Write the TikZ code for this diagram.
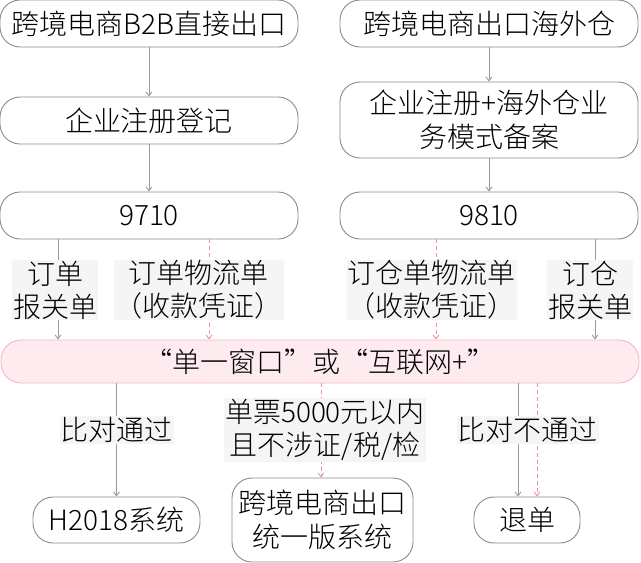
\documentclass[tikz,border=0pt]{standalone}
\usepackage{fontspec}
\setmainfont{Noto Sans CJK SC}[UprightFont=* Light]
\usetikzlibrary{arrows.meta}
\definecolor{boxgray}{HTML}{8A8A8A}
\definecolor{linegray}{HTML}{9A9A9A}
\definecolor{pinkline}{HTML}{F08FA3}
\definecolor{pinkfill}{HTML}{FDEBEF}
\definecolor{pinkborder}{HTML}{F4B6C2}
\definecolor{labelbg}{HTML}{F5F5F5}
\tikzset{
  flowbox/.style={draw=boxgray, line width=0.9pt, rounded corners=20pt, fill=white,
    inner sep=0pt, align=center, font=\fontsize{28}{34}\selectfont},
  tagbox/.style={fill=labelbg, inner sep=1pt, align=center, font=\fontsize{28}{33}\selectfont},
  solidarrow/.style={draw=linegray, line width=0.9pt, -{Straight Barb[length=4pt,width=6pt]}},
  dasharrow/.style={draw=pinkline, line width=0.9pt, dashed, dash pattern=on 4pt off 3pt, -{Straight Barb[length=4pt,width=6pt]}},
}
\begin{document}
\begin{tikzpicture}[x=1pt,y=-1pt]
\useasboundingbox (0,0) rectangle (641,563);
% left column
\node[flowbox, minimum width=298pt, minimum height=47pt] (A) at (149,23.5) {跨境电商B2B直接出口};
\node[flowbox, minimum width=298pt, minimum height=47pt] (B) at (149,120.5) {企业注册登记};
\node[flowbox, minimum width=298pt, minimum height=47pt] (C) at (149,215.5) {9710};
% right column
\node[flowbox, minimum width=298pt, minimum height=47pt] (D) at (489,23.5) {跨境电商出口海外仓};
\node[flowbox, minimum width=298pt, minimum height=76pt] (E) at (489,120) {企业注册+海外仓业\\务模式备案};
\node[flowbox, minimum width=298pt, minimum height=47pt] (F) at (489,215.5) {9810};
% bar
\node[flowbox, draw=pinkborder, fill=pinkfill, minimum width=638pt, minimum height=43pt] (W) at (320,361.5) {“单一窗口”或“互联网+”};
% bottom
\node[flowbox, minimum width=167pt, minimum height=46pt] (G) at (116.5,520) {H2018系统};
\node[flowbox, minimum width=181pt, minimum height=84pt] (H) at (322.5,520) {跨境电商出口\\统一版系统};
\node[flowbox, minimum width=106pt, minimum height=46pt] (I) at (527,520) {退单};
% arrows
\draw[solidarrow] (A.south) -- (B.north);
\draw[solidarrow] (B.south) -- (C.north);
\draw[solidarrow] (D.south) -- (E.north);
\draw[solidarrow] (E.south) -- (F.north);
\draw[solidarrow] (C.south -| 58,0) -- (W.north -| 58,0);
\draw[dasharrow] (C.south -| 209,0) -- (W.north -| 209,0);
\draw[dasharrow] (F.south -| 436,0) -- (W.north -| 436,0);
\draw[solidarrow] (F.south -| 595,0) -- (W.north -| 595,0);
\draw[solidarrow] (W.south -| G.north) -- (G.north);
\draw[dasharrow] (W.south -| 321,0) -- (H.north -| 321,0);
\draw[solidarrow] (W.south -| 518,0) -- (I.north -| 518,0);
\draw[dasharrow] (W.south -| 537,0) -- (I.north -| 537,0);
% labels
\node[tagbox] (t1) at (55,290) {订单\\报关单};
\node[tagbox] (t2) at (198.5,290) {订单物流单\\（收款凭证）};
\node[tagbox] (t3) at (431.5,290) {订仓单物流单\\（收款凭证）};
\node[tagbox] (t4) at (590,290) {订仓\\报关单};
\node[tagbox] (t5) at (116.5,430) {比对通过};
\node[tagbox] (t6) at (325,430) {单票5000元以内\\且不涉证/税/检};
\node[tagbox] (t7) at (527.5,430) {比对不通过};
\end{tikzpicture}
\end{document}
